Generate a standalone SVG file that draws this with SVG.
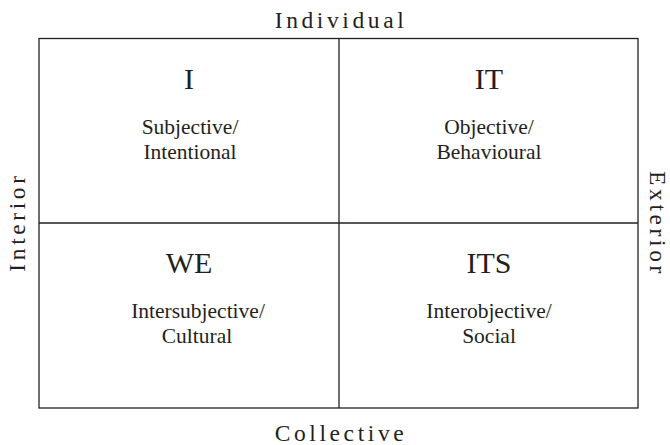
<svg xmlns="http://www.w3.org/2000/svg" width="670" height="445" viewBox="0 0 670 445">
<style>
text{font-family:"Liberation Serif","Times New Roman",serif;fill:#231f20;text-anchor:middle}
.axis{font-size:23.5px;letter-spacing:3.6px}
.t{font-size:30px}
.s{font-size:21.5px}
.ln{stroke:#231f20;stroke-width:1.3;fill:none}
</style>
<rect width="670" height="445" fill="#fff"/>
<g id="grid">
<rect class="ln" x="39" y="38.5" width="599" height="369.5"/>
<line class="ln" x1="339" y1="38.5" x2="339" y2="408"/>
<line class="ln" x1="39" y1="223" x2="638" y2="223"/>
</g>
<g id="axes">
<text class="axis" x="341" y="28">Individual</text>
<text class="axis" x="341" y="441">Collective</text>
<text class="axis" transform="translate(25,222) rotate(-90)">Interior</text>
<text class="axis" transform="translate(650,224) rotate(90)">Exterior</text>
</g>
<g id="q-I"><text class="t" x="189" y="89">I</text><text class="s" x="190" y="134">Subjective/</text><text class="s" x="190" y="159">Intentional</text></g>
<g id="q-IT"><text class="t" x="489" y="89">IT</text><text class="s" x="489" y="134">Objective/</text><text class="s" x="489" y="159">Behavioural</text></g>
<g id="q-WE"><text class="t" x="189" y="273">WE</text><text class="s" x="198" y="318">Intersubjective/</text><text class="s" x="197" y="343">Cultural</text></g>
<g id="q-ITS"><text class="t" x="489" y="273">ITS</text><text class="s" x="489" y="318">Interobjective/</text><text class="s" x="489" y="343">Social</text></g>
</svg>
